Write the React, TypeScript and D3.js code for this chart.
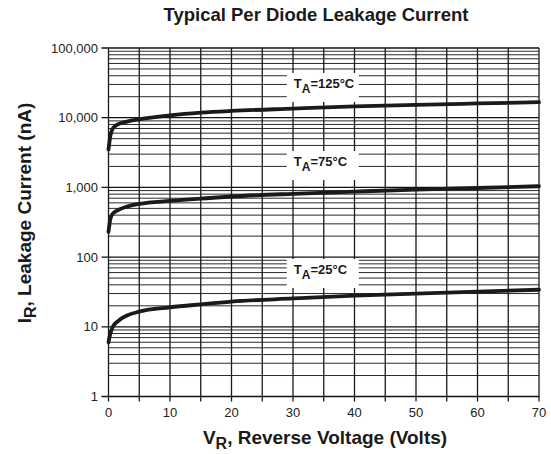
import React from "react";
import * as d3 from "d3";

const voltages = [0, 0.3, 0.7, 1.5, 3, 5, 10, 15, 20, 30, 40, 50, 60, 70];
const current125 = [3500, 5500, 7000, 8000, 8800, 9500, 10800, 11800, 12500, 13500, 14500, 15300, 16000, 16700];
const current75 = [230, 350, 420, 470, 530, 580, 640, 690, 740, 810, 870, 930, 980, 1040];
const current25 = [6, 8, 10, 12, 14.5, 16.5, 19, 21, 23, 25.5, 28, 30, 32, 34];

const xTicks = [0, 10, 20, 30, 40, 50, 60, 70];
const xGrid = [0, 5, 10, 15, 20, 25, 30, 35, 40, 45, 50, 55, 60, 65, 70];
const yTicks = [1, 10, 100, 1000, 10000, 100000];
const yTickLabels = ["1", "10", "100", "1,000", "10,000", "100,000"];

const seriesLabels = [
  { sub: "A", temp: "=125°C", anchorV: 33.7, anchorI: 31500 },
  { sub: "A", temp: "=75°C", anchorV: 33.7, anchorI: 2390 },
  { sub: "A", temp: "=25°C", anchorV: 33.7, anchorI: 67.5 },
];

const W = 551;
const H = 454;
const left = 108.5;
const right = 539;
const top = 48;
const bottom = 396.5;

export default function App() {
  const x = d3.scaleLinear().domain([0, 70]).range([left, right]);
  const y = d3.scaleLog().domain([1, 100000]).range([bottom, top]);

  const minor: number[] = [];
  for (let d = 0; d < 5; d++) {
    for (let k = 2; k <= 9; k++) minor.push(k * Math.pow(10, d));
  }

  const line = d3
    .line<number>()
    .x((_, i) => x(voltages[i]))
    .y((d) => y(d))
    .curve(d3.curveMonotoneX);

  const font = "'Liberation Sans', Arial, Helvetica, sans-serif";
  const series = [current125, current75, current25];

  return (
    <div style={{ position: "absolute", left: 0, top: 0 }}>
      <svg width={W} height={H} style={{ display: "block", background: "#fff" }} fontFamily={font}>
        {minor.map((m) => (
          <line key={"m" + m} x1={left} x2={right} y1={y(m)} y2={y(m)} stroke="#2a2a2a" strokeWidth={1} />
        ))}
        {yTicks.map((t) => (
          <line key={"M" + t} x1={left - 7} x2={right} y1={y(t)} y2={y(t)} stroke="#111" strokeWidth={1.3} />
        ))}
        {xGrid.map((v) => (
          <line key={"v" + v} x1={x(v)} x2={x(v)} y1={top} y2={bottom + 5} stroke="#1a1a1a" strokeWidth={1.3} />
        ))}
        {yTicks.map((t, i) => (
          <text key={"yl" + t} x={98} y={y(t) + 4.5} textAnchor="end" fontSize={13} fill="#222">
            {yTickLabels[i]}
          </text>
        ))}
        {xTicks.map((v) => (
          <text key={"xl" + v} x={x(v)} y={417} textAnchor="middle" fontSize={13} fill="#222">
            {v}
          </text>
        ))}
        {series.map((s, i) => (
          <path key={"s" + i} d={line(s) || ""} fill="none" stroke="#1a1a1a" strokeWidth={3.8} strokeLinecap="round" />
        ))}
        {seriesLabels.map((l, i) => {
          const cx = x(l.anchorV);
          const cy = y(l.anchorI);
          return (
            <g key={"lab" + i}>
              <rect x={cx - 29} y={cy - 10} width={72} height={29} fill="#fff" />
              <text x={cx - 22} y={cy + 5} fontSize={13} fontWeight="bold" fill="#1a1a1a">
                T
                <tspan fontSize={12} dy={5}>{l.sub}</tspan>
                <tspan dy={-5}>{l.temp}</tspan>
              </text>
            </g>
          );
        })}
        <text x={316} y={21} textAnchor="middle" fontSize={18.5} fontWeight="bold" fill="#1a1a1a">
          Typical Per Diode Leakage Current
        </text>
        <text x={325} y={444} textAnchor="middle" fontSize={19} fontWeight="bold" fill="#1a1a1a">
          V<tspan fontSize={16} dy={5}>R</tspan>
          <tspan dy={-5}>, Reverse Voltage (Volts)</tspan>
        </text>
        <text
          transform={`translate(31, 213) rotate(-90)`}
          textAnchor="middle"
          fontSize={19}
          fontWeight="bold"
          fill="#1a1a1a"
        >
          I<tspan fontSize={16} dy={5}>R</tspan>
          <tspan dy={-5}>, Leakage Current (nA)</tspan>
        </text>
      </svg>
    </div>
  );
}
